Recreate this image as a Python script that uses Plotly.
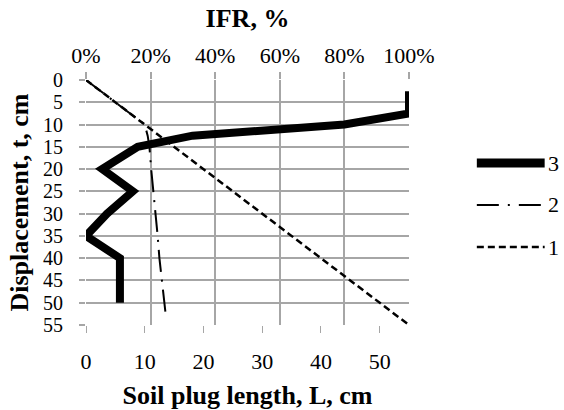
import plotly.graph_objects as go

# Series 3: IFR (%) vs displacement (top axis)
ifr_disp = [2.5, 7.5, 10, 12.5, 15, 20, 25, 30, 35, 40, 45, 50]
ifr_pct = [100, 100, 80, 33, 16, 5, 14.5, 6.5, 0, 10.5, 10.5, 10.5]

# Series 2: soil plug length (cm) vs displacement (bottom axis)
plug_disp = [0, 5, 10, 12.5, 15, 20, 25, 30, 35, 40, 45, 50, 53]
plug_len = [0, 5, 10, 10.5, 10.8, 11.1, 11.5, 11.9, 12.2, 12.5, 12.9, 13.3, 13.6]

# Series 1: full coring reference line L = t
ref_disp = [0, 55]
ref_len = [0, 55]

legend_names = ["3", "2", "1"]

FONT = "Liberation Serif"
GRID = "#a6a6a6"
TICKF = dict(family=FONT, size=22, color="black")
YTICKF = dict(family=FONT, size=20, color="black")
TITLEF = dict(family=FONT, size=26, color="black")

fig = go.Figure()

fig.add_trace(go.Scatter(x=ref_len, y=ref_disp, mode="lines", name="1",
                         line=dict(color="black", width=2.5, dash="7px,4px"),
                         xaxis="x", yaxis="y", showlegend=False))
fig.add_trace(go.Scatter(x=plug_len, y=plug_disp, mode="lines", name="2",
                         line=dict(color="black", width=2, dash="22px,8px,2px,8px"),
                         xaxis="x", yaxis="y", showlegend=False))
fig.add_trace(go.Scatter(x=[v / 100 for v in ifr_pct], y=ifr_disp, mode="lines", name="3",
                         line=dict(color="black", width=8),
                         xaxis="x2", yaxis="y", showlegend=False))

# manual legend (long line samples like the reference)
leg_y = [0.661, 0.49, 0.318]
leg_styles = [dict(color="black", width=9), dict(color="black", width=2, dash="22px,9px,2px,9px"),
              dict(color="black", width=2.5, dash="7px,4px")]
for name, yy, st in zip(legend_names, leg_y, leg_styles):
    fig.add_shape(type="line", xref="paper", yref="paper", x0=1.21, x1=1.42, y0=yy, y1=yy,
                  line=st)
    fig.add_annotation(xref="paper", yref="paper", x=1.423, y=yy, text=name, showarrow=False,
                       xanchor="left", yanchor="middle", font=TICKF)

fig.update_layout(
    width=564, height=410,
    margin=dict(l=86, r=155, t=80, b=85),
    paper_bgcolor="white", plot_bgcolor="white",
    font=dict(family=FONT, size=22, color="black"),
    showlegend=False,
    xaxis=dict(range=[0, 55], tickvals=[0, 10, 20, 30, 40, 50], showgrid=False, zeroline=False,
               ticks="outside", ticklen=7, tickcolor=GRID, tickwidth=1, tickfont=TICKF,
               showline=False, ticklabelstandoff=10, automargin=False,
               title=dict(text="<b>Soil plug length, L, cm</b>", font=TITLEF, standoff=15)),
    xaxis2=dict(range=[0, 1], overlaying="x", side="top", tickvals=[0, 0.2, 0.4, 0.6, 0.8, 1.0],
                tickformat=".0%", showgrid=True, gridcolor=GRID, gridwidth=1.5, zeroline=False,
                ticks="outside", ticklen=7, tickcolor=GRID, tickwidth=1.5, ticklabelstandoff=0,
                tickfont=TICKF, automargin=False,
                title=dict(text="<b>IFR, %</b>", font=TITLEF, standoff=8)),
    yaxis=dict(range=[55, 0], tickvals=list(range(0, 60, 5)), showgrid=True, gridcolor=GRID,
               gridwidth=1.5, zeroline=False, ticks="outside", ticklen=6, tickcolor=GRID,
               tickwidth=1.5, ticklabelstandoff=12, tickfont=YTICKF, automargin=False,
               title=dict(text="<b>Displacement, t, cm</b>", font=TITLEF, standoff=6)),
)

fig.write_html("out.html")
